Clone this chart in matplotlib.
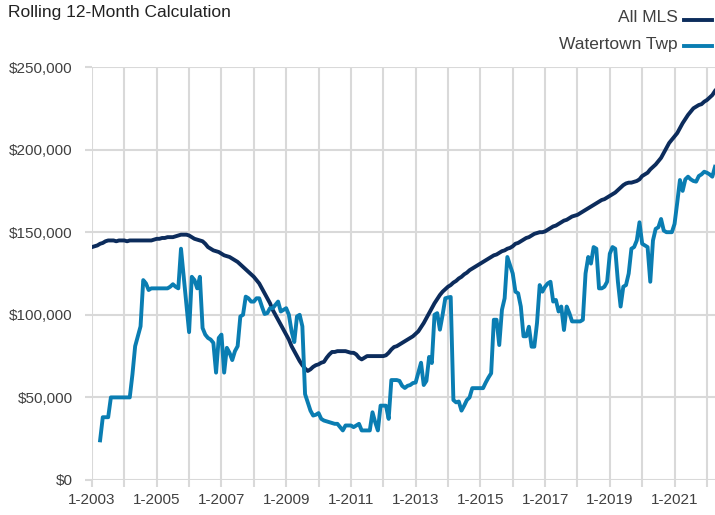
"""Rolling 12-month median sales price: All MLS vs Watertown Twp."""

import matplotlib

matplotlib.use("Agg")
import matplotlib.pyplot as plt
from matplotlib.lines import Line2D
from matplotlib.ticker import FuncFormatter
import numpy as np
import pandas as pd

plt.rcParams["font.family"] = ["Liberation Sans", "DejaVu Sans"]

START = "2003-01"

# monthly values in $ thousands, one row per year (Jan..Dec)
ALL_MLS = [
    141, 141.5, 142, 143, 143.5, 144.5, 145, 145, 145, 144.5, 145, 145,
    145, 144.5, 145, 145, 145, 145, 145, 145, 145, 145, 145, 145.5,
    146, 146, 146.5, 146.5, 147, 147, 147, 147.5, 148, 148.5, 148.5, 148.5,
    148, 147, 146, 145.5, 145, 144.5, 143, 141, 140, 139, 138.5, 138,
    137, 136, 135.5, 135, 134, 133, 132, 130.5, 129, 127.5, 126, 124.5,
    123, 121, 119, 116, 113, 110, 107, 103, 100, 97, 94, 91,
    88, 85, 81, 78, 75, 72, 69.5, 67.5, 66, 67, 68.5, 69.5,
    70, 71, 71.5, 74, 76, 77.5, 77.5, 78, 78, 78, 78, 77.5,
    77, 77, 76, 74, 73, 74, 75, 75, 75, 75, 75, 75,
    75, 75.5, 77, 79, 80.5, 81, 82, 83, 84, 85, 86, 87,
    88.5, 90, 92.5, 95, 98, 101, 104, 107, 109.5, 112, 114, 115.5,
    117, 118, 119.5, 120.5, 122, 123, 124.5, 125.5, 127, 128, 129, 130,
    131, 132, 133, 134, 135, 136, 136.5, 137.5, 138.5, 139, 140, 140.5,
    141.5, 143, 143.5, 144.5, 145.5, 146.5, 147, 148, 149, 149.5, 150, 150,
    150.5, 151.5, 152.5, 153.5, 154, 155, 156, 157, 157.5, 158.5, 159.5, 160,
    160.5, 161.5, 162.5, 163.5, 164.5, 165.5, 166.5, 167.5, 168.5, 169.5, 170, 171,
    172, 173, 174, 175.5, 177, 178.5, 179.5, 180, 180, 180.5, 181, 182,
    184, 185, 186, 188, 189.5, 191, 193, 195, 198, 201, 204, 206,
    208, 210, 213, 216, 218.5, 221, 223, 225, 226, 227, 227.5, 229,
    230, 231.5, 233, 235.5,
]

nan = np.nan
WATERTOWN = [
    nan, nan, nan, 24, 38, 38, 38, 50, 50, 50, 50, 50,
    50, 50, 50, 64, 81, 87, 93, 121, 119, 115, 116, 116,
    116, 116, 116, 116, 116, 117, 118.5, 117, 116, 140, 123, 106,
    89.5, 123, 121, 116, 123, 92, 88, 86, 85, 83, 65, 86,
    88, 65, 80, 77, 72.6, 78, 81, 99, 100, 111, 110, 108,
    108, 110, 110, 105, 100.5, 101, 104, 104, 106, 108, 102, 103,
    104, 100, 90, 83.5, 99, 100, 93, 52, 47, 42, 39, 39.5,
    40.5, 37, 36, 35.5, 35, 34.5, 34, 34, 32, 30, 33, 33,
    33, 32, 33, 34, 30, 30, 30, 30, 41, 35, 30, 45,
    45, 45, 37, 60.5, 60.5, 60.5, 60, 57, 55.7, 57, 57.5, 58.7,
    59, 65, 71, 57.5, 60, 74.5, 70.8, 100, 101, 91, 100, 110,
    110.5, 110.8, 48.4, 47, 47.5, 42, 45, 48.4, 50, 55.6, 55.6, 55.6,
    55.6, 55.6, 59, 62, 64.6, 97, 97, 81.7, 103, 110, 135, 130,
    125, 114, 113, 105, 87, 87, 92.8, 80.7, 80.7, 95, 118, 114,
    117, 119, 120, 108, 109, 102, 105, 90.8, 105, 101, 96, 96,
    96, 96, 97, 125, 135, 131, 141, 140, 116, 116, 117, 120,
    137, 141, 140, 120, 105, 117, 118, 125, 140, 141, 145, 156,
    143, 142, 141, 120, 145, 152, 153, 158, 151, 150, 150, 150,
    155, 168, 181.6, 175, 182, 183.6, 182, 181, 180.6, 184, 185, 186.6,
    186, 185, 183.6, 189.6,
]

SERIES = ["All MLS", "Watertown Twp"]
COLORS = ["#0c2c5c", "#0a7db2"]
Y_TICKS = [0, 50000, 100000, 150000, 200000, 250000]
GRID = "#d9d9d9"
TEXT = "#404040"


def main():
    months = pd.date_range(START, periods=len(ALL_MLS), freq="MS")
    x = months.year + (months.month - 1) / 12
    values = [np.array(ALL_MLS) * 1000, np.array(WATERTOWN) * 1000]

    fig = plt.figure(figsize=(7.15, 5.15), dpi=100)
    ax = fig.add_axes([92 / 715, 35 / 515, 623 / 715, 413 / 515])

    for name, color, y in zip(SERIES, COLORS, values):
        ax.plot(x, y, color=color, lw=2.8, solid_joinstyle="round", label=name, zorder=3)

    years = np.arange(2003, 2023)
    ax.set_xticks(years)
    ax.set_xticklabels([f"1-{yr}" if (yr - 2003) % 2 == 0 else "" for yr in years])
    ax.set_xlim(x[0], x[-1])
    ax.set_yticks(Y_TICKS)
    ax.set_ylim(0, 250000)
    ax.yaxis.set_major_formatter(FuncFormatter(lambda v, _: f"${v:,.0f}"))

    ax.grid(True, color=GRID, lw=1.5, zorder=0)
    ax.set_axisbelow(True)
    for spine in ax.spines.values():
        spine.set_visible(False)
    ax.tick_params(axis="both", colors=GRID, labelcolor=TEXT, labelsize=11, length=5, width=1.5)
    ax.tick_params(axis="x", pad=4)
    ax.tick_params(axis="y", pad=9)

    fig.text(8 / 715, 1 - 12 / 515, "Rolling 12-Month Calculation", fontsize=12.5, color="#222222",
             ha="left", va="center")
    for i, (name, color) in enumerate(zip(SERIES, COLORS)):
        ypos = 1 - (18 + 26 * i) / 515
        fig.text(678 / 715, ypos, name, fontsize=12.5, color=TEXT, ha="right", va="center")
        fig.add_artist(Line2D([684 / 715, 712 / 715], [ypos - 0.004, ypos - 0.004], color=color, lw=2.8,
                              transform=fig.transFigure))

    fig.savefig("out.png", dpi=100)


if __name__ == "__main__":
    main()
